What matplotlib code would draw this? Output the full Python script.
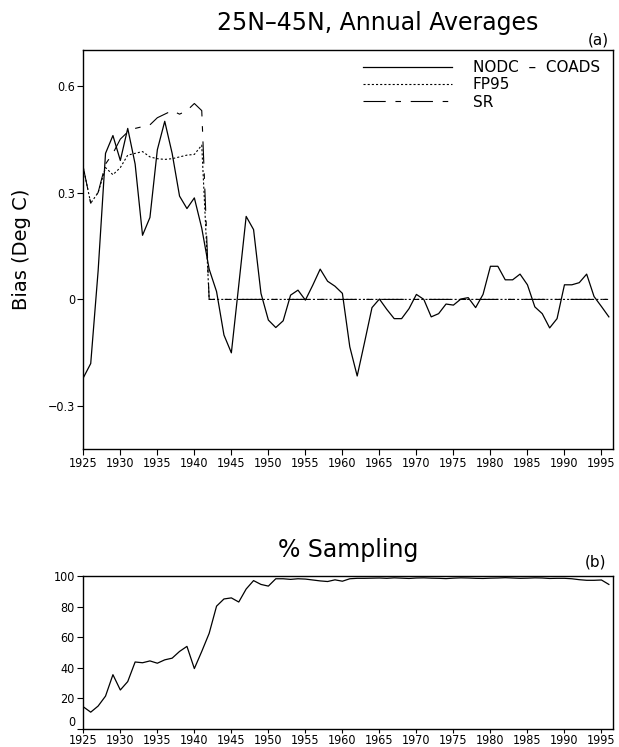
import numpy as np
import matplotlib
matplotlib.use("Agg")
import matplotlib.pyplot as plt

plt.rcParams['font.family'] = ['DejaVu Sans']
plt.rcParams['lines.scale_dashes'] = False

years = list(range(1925, 1997))

# NODC - COADS bias (deg C), solid curve
nodc_coads = [-0.22, -0.18, 0.08, 0.41, 0.46, 0.39, 0.48, 0.38, 0.18, 0.23,
              0.42, 0.50, 0.41, 0.29, 0.255, 0.285, 0.20, 0.085, 0.022, -0.10,
              -0.15, 0.04, 0.233, 0.196, 0.017, -0.058, -0.079, -0.06, 0.012, 0.026,
              -0.002, 0.04, 0.085, 0.051, 0.037, 0.017, -0.133, -0.215, -0.12, -0.023,
              0.001, -0.028, -0.054, -0.054, -0.026, 0.014, 0.0, -0.049, -0.04, -0.013,
              -0.016, 0.001, 0.005, -0.023, 0.014, 0.093, 0.093, 0.055, 0.055, 0.071,
              0.041, -0.021, -0.04, -0.08, -0.054, 0.041, 0.041, 0.047, 0.071, 0.008,
              -0.02, -0.049]

# FP95 correction (dotted)
fp95 = [0.37, 0.27, 0.30, 0.37, 0.35, 0.37, 0.405, 0.41, 0.415, 0.40,
        0.395, 0.393, 0.395, 0.40, 0.405, 0.407, 0.433] + [0.0] * 55

# SR correction (long dash)
sr = [0.37, 0.27, 0.30, 0.38, 0.41, 0.45, 0.47, 0.48, 0.485, 0.49,
      0.51, 0.52, 0.53, 0.52, 0.53, 0.55, 0.53] + [0.0] * 55

# % sampling
sampling = [14.5, 11, 15, 21.5, 35.5, 25.5, 31, 43.8, 43.3, 44.5,
            43, 45.2, 46.3, 50.7, 54, 39.5, 50.7, 62.5, 80.3, 85,
            85.7, 83, 91.5, 97, 94.5, 93.4, 98.2, 98.2, 97.8, 98.2,
            98, 97.4, 96.8, 96.4, 97.5, 96.6, 98.2, 98.5, 98.5, 98.6,
            98.7, 98.5, 98.8, 98.6, 98.4, 98.7, 98.8, 98.6, 98.5, 98.3,
            98.6, 98.8, 98.7, 98.5, 98.4, 98.6, 98.7, 98.9, 98.7, 98.5,
            98.6, 98.8, 98.7, 98.4, 98.5, 98.5, 98.2, 97.6, 97.2, 97.2,
            97.4, 94.5]

xticks = list(range(1925, 2000, 5))
bias_ticks = [-0.3, 0, 0.3, 0.6]
bias_ticklabels = ['\u22120.3', '0', '0.3', '0.6']
samp_ticks = [0, 20, 40, 60, 80, 100]

tick_font = dict(family='DejaVu Sans', stretch='condensed', size=9)

fig = plt.figure(figsize=(6.19, 7.47), dpi=100)

# ---- panel (a)
ax1 = fig.add_axes([0.1346, 0.3989, 0.8562, 0.5341])
ax1.plot(years, nodc_coads, color='black', lw=0.9, label='NODC  \u2013  COADS')
ax1.plot(years, fp95, color='black', lw=0.8, linestyle=(0, (1.5, 1.5)), label='FP95')
ax1.plot(years, sr, color='black', lw=0.8, linestyle=(0, (16, 7, 4, 7)), label='SR')
ax1.set_xlim(1925, 1996.6)
ax1.set_ylim(-0.42, 0.70)
ax1.set_xticks(xticks)
ax1.set_xticklabels([str(y) for y in xticks], fontdict=tick_font)
ax1.set_yticks(bias_ticks)
ax1.set_yticklabels(bias_ticklabels, fontdict=tick_font)
ax1.tick_params(direction='out', length=4, width=0.8, pad=2)
ax1.set_ylabel('Bias (Deg C)', fontsize=14, labelpad=12)
for s in ax1.spines.values():
    s.set_linewidth(1.0)
ax1.legend(loc='upper right', bbox_to_anchor=(0.975, 0.975), frameon=False,
           fontsize=11, handlelength=5.8, handletextpad=1.4, labelspacing=0.15,
           borderaxespad=0, borderpad=0)

fig.text(378 / 619, 1 - 23 / 747, '25N\u201345N, Annual Averages', fontsize=17,
         ha='center', va='center')
fig.text(598 / 619, 1 - 40 / 747, '(a)', fontsize=11, ha='center', va='center')

# ---- panel (b)
ax2 = fig.add_axes([0.1346, 0.0241, 0.8562, 0.2048])
ax2.plot(years, sampling, color='black', lw=0.9)
ax2.set_xlim(1925, 1996.6)
ax2.set_ylim(0, 100)
ax2.set_xticks(xticks)
ax2.set_xticklabels([str(y) for y in xticks], fontdict=tick_font)
ax2.set_yticks(samp_ticks)
ax2.set_yticklabels([str(v) for v in samp_ticks], fontdict=tick_font)
ax2.tick_params(axis='y', direction='out', length=4, width=0.8, pad=2)
ax2.tick_params(axis='x', direction='out', length=3, width=0.8, pad=0.5)
ax2.get_yticklabels()[0].set_verticalalignment('bottom')
for s in ax2.spines.values():
    s.set_linewidth(1.0)

fig.text(348 / 619, 1 - 550 / 747, '% Sampling', fontsize=17, ha='center', va='center')
fig.text(595 / 619, 1 - 562 / 747, '(b)', fontsize=11, ha='center', va='center')

fig.savefig('out.png', dpi=100)
